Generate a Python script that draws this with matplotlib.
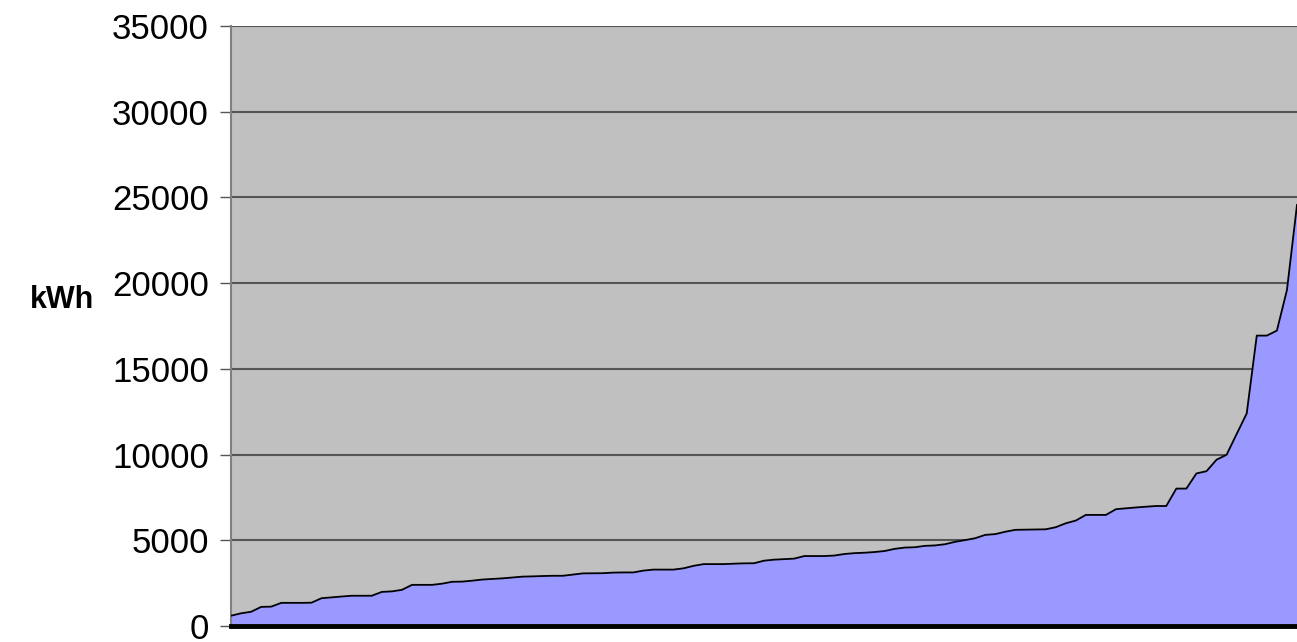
import numpy as np
from matplotlib import pyplot as plt

# sorted consumption values, one per category
kwh = [
    600, 740, 830, 1115, 1130, 1350, 1350, 1350, 1360, 1620,
    1670, 1720, 1765, 1765, 1765, 1990, 2020, 2110, 2400, 2400,
    2400, 2470, 2580, 2590, 2645, 2710, 2745, 2780, 2830, 2880,
    2895, 2915, 2930, 2930, 3000, 3070, 3075, 3080, 3115, 3125,
    3125, 3230, 3290, 3290, 3290, 3365, 3510, 3610, 3610, 3610,
    3635, 3655, 3660, 3810, 3870, 3900, 3930, 4080, 4080, 4080,
    4110, 4200, 4250, 4275, 4315, 4375, 4500, 4575, 4595, 4675,
    4700, 4770, 4910, 5010, 5120, 5315, 5360, 5500, 5610, 5620,
    5630, 5640, 5760, 5990, 6150, 6480, 6480, 6480, 6815, 6865,
    6915, 6960, 7000, 7000, 8015, 8015, 8900, 9030, 9700, 9990,
    11200, 12400, 16940, 16940, 17230, 19600, 24565,
]
y_ticks = [0, 5000, 10000, 15000, 20000, 25000, 30000, 35000]
y_label = "kWh"

plt.rcParams["font.family"] = ["Liberation Sans", "DejaVu Sans"]

fig = plt.figure(figsize=(12.97, 6.42), dpi=100)
ax = fig.add_axes([231 / 1297, 16 / 642, 1 - 231 / 1297, 600 / 642])

x = np.arange(len(kwh))
ax.set_facecolor("#C0C0C0")
ax.fill_between(x, 0, kwh, color="#9999FF", zorder=2)
ax.plot(x, kwh, color="black", lw=1.3, zorder=3)

ax.set_xlim(0, len(kwh) - 1)
ax.set_ylim(0, 35000)
ax.set_yticks(y_ticks)
ax.set_yticklabels([str(v) for v in y_ticks], fontsize=25)
ax.set_xticks([])
ax.yaxis.grid(True, color="#555555", lw=1.5, zorder=1)
ax.set_axisbelow(True)
ax.tick_params(axis="y", length=8, width=1, color="#555555", pad=8)

for side in ["top", "right"]:
    ax.spines[side].set_visible(False)
ax.spines["left"].set_color("#808080")
ax.spines["left"].set_linewidth(1.5)
ax.spines["bottom"].set_color("black")
ax.spines["bottom"].set_linewidth(3.5)
ax.spines["bottom"].set_zorder(4)

fig.text(62 / 1297, 1 - 300 / 642, y_label, fontsize=22, fontweight="bold",
         ha="center", va="center")

fig.savefig("out.png", dpi=100)
